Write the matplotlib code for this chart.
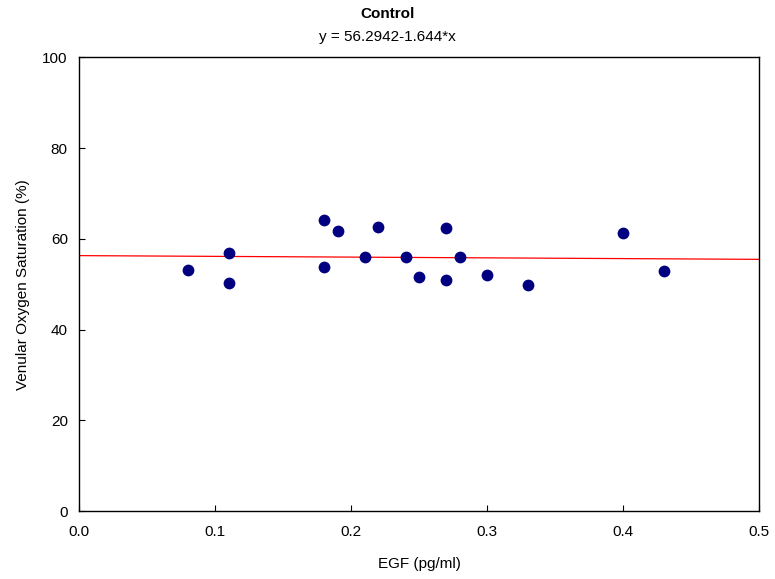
import numpy as np
import matplotlib.pyplot as plt

plt.rcParams['font.family'] = ['Liberation Sans', 'DejaVu Sans']

# data
egf = [0.08, 0.11, 0.11, 0.18, 0.18, 0.19, 0.21, 0.22, 0.24, 0.25,
       0.27, 0.27, 0.28, 0.30, 0.33, 0.40, 0.43]
svo2 = [53.2, 56.9, 50.2, 64.2, 53.8, 61.7, 56.0, 62.6, 56.0, 51.6,
        62.3, 51.0, 56.0, 52.1, 49.9, 61.2, 53.0]
intercept = 56.2942
slope = -1.644

fig = plt.figure(figsize=(7.75, 5.79), dpi=100)
ax = fig.add_axes([0.1019, 0.1174, 0.878, 0.7836])

xl = np.array([0.0, 0.5])
ax.plot(xl, intercept + slope * xl, color='red', lw=0.9, zorder=2)
ax.scatter(egf, svo2, s=72, color='#000080', zorder=3, linewidths=0)

ax.set_xlim(0, 0.5)
ax.set_ylim(0, 100)
ax.set_xticks([0.0, 0.1, 0.2, 0.3, 0.4, 0.5])
ax.set_xticklabels(['0.0', '0.1', '0.2', '0.3', '0.4', '0.5'])
ax.set_yticks([0, 20, 40, 60, 80, 100])
ax.tick_params(direction='in', labelsize=11, length=4, width=0.8)
ax.tick_params(axis='x', pad=10)
ax.tick_params(axis='y', pad=8)
for s in ax.spines.values():
    s.set_linewidth(1.0)

ax.set_xlabel('EGF (pg/ml)', fontsize=11, labelpad=13)
ax.set_ylabel('Venular Oxygen Saturation (%)', fontsize=11, labelpad=9)

fig.text(0.5, 1 - 14 / 579, 'Control', ha='center', va='center',
         fontsize=11, fontweight='bold')
fig.text(0.5, 1 - 37 / 579, 'y = 56.2942-1.644*x', ha='center', va='center',
         fontsize=11)

fig.savefig('out.png', dpi=100)
